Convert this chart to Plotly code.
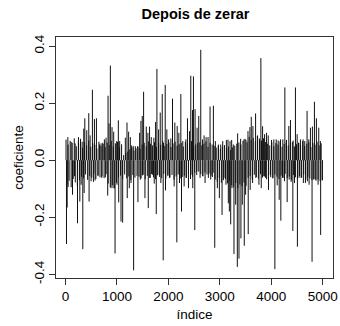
import plotly.graph_objects as go

# ---- data (index, coefficient) ----
tall_pos_idx = [45,110,187,252,291,323,355,375,413,452,478,523,562,601,659,691,724,756,788,827,846,872,904,937,995,1027,1053,1163,1195,1227,1260,1286,1318,1357,1402,1441,1466,1492,1518,1570,1602,1634,1667,1718,1751,1777,1809,1841,1880,1906,1938,1970,2003,2048,2080,2125,2171,2203,2242,2280,2339,2371,2410,2435,2468,2487,2519,2558,2590,2629,2662,2694,2733,2771,2810,2875,2913,2972,3017,3056,3127,3159,3198,3230,3262,3346,3404,3469,3508,3547,3585,3611,3643,3695,3734,3773,3798,3831,3870,3908,3941,4005,4050,4096,4134,4180,4225,4264,4296,4341,4373,4425,4470,4503,4535,4567,4619,4651,4696,4729,4761,4800,4839,4877,4923,4955]
tall_pos_val = [0.081,0.064,0.059,0.081,0.075,0.065,0.111,0.147,0.105,0.165,0.087,0.247,0.144,0.147,0.055,0.059,0.061,0.073,0.079,0.226,0.129,0.332,0.116,0.100,0.067,0.140,0.067,0.079,0.132,0.100,0.081,0.052,0.049,0.049,0.049,0.096,0.138,0.155,0.240,0.118,0.096,0.118,0.081,0.079,0.134,0.320,0.108,0.167,0.232,0.061,0.264,0.108,0.073,0.076,0.216,0.132,0.120,0.096,0.232,0.067,0.073,0.147,0.102,0.296,0.176,0.294,0.179,0.114,0.155,0.387,0.073,0.087,0.081,0.081,0.188,0.191,0.067,0.055,0.055,0.067,0.071,0.072,0.067,0.071,0.055,0.094,0.075,0.073,0.071,0.102,0.116,0.152,0.120,0.164,0.087,0.076,0.358,0.119,0.091,0.096,0.087,0.071,0.073,0.073,0.069,0.073,0.073,0.255,0.071,0.120,0.141,0.069,0.255,0.091,0.061,0.073,0.073,0.067,0.173,0.073,0.114,0.118,0.205,0.147,0.114,0.067]

tall_neg_idx = [19,32,50,136,174,233,278,304,336,362,458,497,543,575,633,704,775,820,885,924,963,1001,1034,1079,1111,1200,1240,1273,1324,1408,1454,1497,1544,1609,1647,1693,1725,1764,1822,1854,1899,1944,1990,2022,2112,2164,2216,2255,2306,2345,2390,2440,2474,2513,2552,2616,2668,2713,2777,2823,2855,2901,2952,2991,3043,3081,3120,3165,3185,3211,3236,3275,3308,3340,3372,3410,3437,3475,3501,3552,3590,3637,3700,3760,3805,3844,3889,3946,3986,4031,4070,4115,4154,4186,4218,4257,4309,4348,4386,4419,4451,4508,4541,4580,4624,4664,4702,4735,4793,4826,4864,4910,4960,4994]
tall_neg_val = [-0.294,-0.166,-0.094,-0.121,-0.056,-0.221,-0.145,-0.086,-0.312,-0.115,-0.145,-0.074,-0.076,-0.071,-0.056,-0.062,-0.060,-0.124,-0.098,-0.098,-0.327,-0.086,-0.148,-0.215,-0.219,-0.133,-0.098,-0.080,-0.386,-0.147,-0.068,-0.053,-0.133,-0.168,-0.062,-0.051,-0.082,-0.189,-0.051,-0.080,-0.351,-0.106,-0.051,-0.062,-0.092,-0.288,-0.080,-0.180,-0.092,-0.062,-0.098,-0.051,-0.098,-0.245,-0.039,-0.062,-0.056,-0.080,-0.062,-0.068,-0.059,-0.307,-0.098,-0.133,-0.192,-0.062,-0.086,-0.151,-0.180,-0.225,-0.098,-0.329,-0.156,-0.374,-0.345,-0.274,-0.156,-0.300,-0.121,-0.259,-0.104,-0.080,-0.062,-0.086,-0.098,-0.056,-0.062,-0.104,-0.051,-0.062,-0.382,-0.088,-0.139,-0.212,-0.062,-0.074,-0.147,-0.068,-0.076,-0.248,-0.080,-0.303,-0.062,-0.062,-0.080,-0.080,-0.074,-0.086,-0.356,-0.068,-0.068,-0.086,-0.262,-0.071]

# dense band of small coefficients (one every 40 indices)
band_pos = [0.072,0.055,0.068,0.061,0.077,0.049,0.066,
            0.058,0.044,0.063,0.052,0.069,0.047,0.060,0.054,0.041,0.065,0.050,0.057,0.046,
            0.062,0.053,0.067,0.048,0.059,0.064,0.045,0.056,
            0.018,0.025,0.030,
            0.038,0.045,0.034,0.042,0.047,0.040,
            0.055,0.061,0.049,0.066,0.058,0.052,0.063,0.047,0.060,0.054,0.068,0.050,0.057,0.062,0.046,0.059,0.065,0.051,0.056,0.061,0.048,0.064,0.053,0.058,0.067,0.049,0.055,0.060,
            0.063,0.052,0.058,0.066,0.047,0.061,0.055,0.050,
            0.044,0.050,0.039,0.047,0.053,0.042,0.048,0.036,0.045,0.051,
            0.058,0.062,0.055,
            0.068,0.075,0.063,0.082,0.071,0.078,0.066,0.085,0.072,0.069,0.077,0.064,
            0.058,0.052,0.063,0.049,0.060,0.055,0.066,0.047,0.057,0.062,0.051,0.059,0.064,0.048,0.056,0.061,0.053,0.067,0.050,0.058,0.063,0.046,0.060,0.054,0.065,0.052,0.059]
band_neg = [-0.085,-0.072,-0.095,-0.066,-0.078,-0.090,-0.070,
            -0.058,-0.064,-0.050,-0.069,-0.055,-0.061,-0.047,-0.066,-0.053,-0.060,-0.057,-0.063,-0.049,
            -0.082,-0.095,-0.088,-0.099,-0.079,
            -0.060,-0.054,-0.066,-0.050,-0.063,-0.057,-0.069,-0.052,-0.061,-0.055,
            -0.058,-0.064,-0.051,-0.067,-0.055,-0.062,-0.049,-0.060,-0.066,-0.053,-0.059,-0.063,-0.048,-0.065,-0.056,-0.061,-0.052,-0.068,-0.057,-0.050,-0.064,-0.059,-0.054,-0.062,-0.047,-0.066,-0.058,
            -0.045,-0.052,-0.040,-0.049,-0.056,-0.043,-0.050,-0.047,-0.054,-0.044,
            -0.068,-0.075,-0.062,-0.079,-0.070,-0.066,-0.081,-0.072,
            -0.088,-0.095,-0.080,-0.098,-0.085,-0.092,-0.078,-0.090,
            -0.062,-0.055,-0.068,-0.051,-0.059,-0.065,-0.049,-0.061,-0.057,-0.067,
            -0.053,-0.060,-0.064,-0.050,-0.058,-0.066,-0.054,-0.062,-0.048,-0.063,
            -0.057,-0.069,-0.052,-0.060,-0.065,-0.055,-0.061,-0.050,-0.067,-0.058,
            -0.064,-0.070,-0.066,-0.072,-0.068,-0.074,-0.069]

x_ticks = [0, 1000, 2000, 3000, 4000, 5000]
x_ticklabels = ["0", "1000", "2000", "3000", "4000", "5000"]
y_ticks = [-0.4, -0.2, 0.0, 0.2, 0.4]
y_ticklabels = ["-0.4", "-0.2", "0.0", "0.2", "0.4"]

# ---- assemble spikes (type = "h") ----
idx = list(tall_pos_idx) + list(tall_neg_idx)
val = list(tall_pos_val) + list(tall_neg_val)
idx += [10 + 40 * k for k in range(len(band_pos))]
val += band_pos
idx += [30 + 40 * k for k in range(len(band_neg))]
val += band_neg

xs, ys = [], []
for i, v in sorted(zip(idx, val)):
    xs += [i, i, None]
    ys += [0, v, None]

fig = go.Figure(go.Scatter(x=xs, y=ys, mode="lines",
                           line=dict(color="#111111", width=1),
                           hoverinfo="skip", showlegend=False))

FONT = "Liberation Sans, Arial, sans-serif"
fig.update_layout(
    width=340, height=326,
    margin=dict(l=56, r=7, t=37, b=48, autoexpand=False),
    paper_bgcolor="white", plot_bgcolor="white",
    font=dict(family=FONT, size=13.5, color="black"),
    title=dict(text="<b>Depois de zerar</b>", x=0.575, xanchor="center",
               y=0.957, yanchor="middle", font=dict(size=14.5, family=FONT)),
)
fig.update_xaxes(range=[-185, 5200], tickvals=x_ticks, ticktext=x_ticklabels,
                 ticks="outside", ticklen=6, tickcolor="#333", showgrid=False,
                 zeroline=False, showline=True, linecolor="#333", linewidth=1,
                 mirror=True, automargin=False,
                 title=dict(text="índice", standoff=6, font=dict(size=13.5)))
fig.update_yaxes(range=[-0.413, 0.432], tickvals=y_ticks, ticktext=y_ticklabels,
                 tickangle=-90, ticks="outside", ticklen=6, tickcolor="#333",
                 showgrid=False, zeroline=False, showline=True, linecolor="#333",
                 linewidth=1, mirror=True, automargin=False,
                 title=dict(text="coeficiente", standoff=4, font=dict(size=13.5)))

fig.write_html("out.html")
